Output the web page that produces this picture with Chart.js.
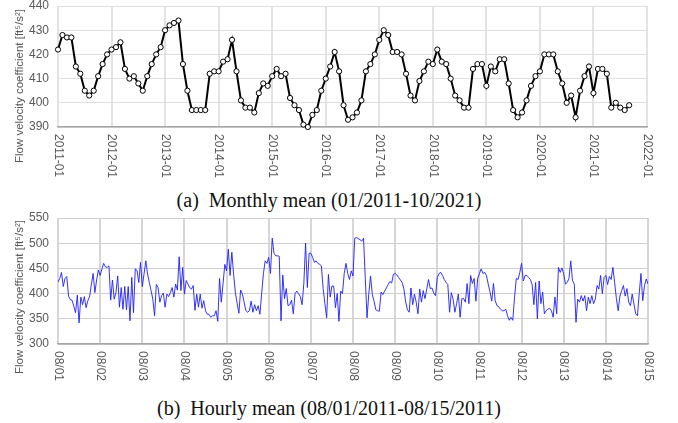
<!DOCTYPE html>
<html><head><meta charset="utf-8">
<script src="https://cdn.jsdelivr.net/npm/chart.js@4/dist/chart.umd.min.js"></script>
<style>
body{margin:0;background:#fff;}
#wrap{position:relative;width:678px;height:423px;overflow:hidden;background:#fff;}
canvas{position:absolute;left:0;}
.cap{position:absolute;left:0;width:658px;text-align:center;font-family:"Liberation Serif","Times New Roman",serif;font-size:20px;line-height:20px;color:#111;white-space:nowrap;}
</style></head><body>
<div id="wrap">
<canvas id="c1" width="678" height="180" style="top:0"></canvas>
<div class="cap" style="top:190px">(a)&nbsp; Monthly mean (01/2011-10/2021)</div>
<canvas id="c2" width="678" height="182" style="top:212px"></canvas>
<div class="cap" style="top:398px">(b)&nbsp; Hourly mean (08/01/2011-08/15/2011)</div>
</div>
<script>
// ---- Monthly mean data (ft^5/s^2) ----
const yearTicks = ['2011-01','2012-01','2013-01','2014-01','2015-01','2016-01','2017-01','2018-01','2019-01','2020-01','2021-01','2022-01'];
const m2011 = [422,428,427,427,415,412,405,403,405,411,416,420];
const m2012 = [422,423,425,414,410,411,408,405,411,416,420,423];
const m2013 = [430,432,433,434,416,405,397,397,397,397,412,413];
const m2014 = [413,417,418,426,413,401,398,398,396,404,408,407];
const m2015 = [411,414,411,412,402,399,397,391,390,395,397,405];
const m2016 = [410,415,421,413,399,393,394,396,401,413,416,420];
const m2017 = [426,430,428,421,421,420,412,403,401,409,413,417];
const m2018 = [416,422,417,416,410,403,401,398,398,414,416,416];
const m2019 = [407,415,413,418,418,408,397,394,396,401,407,411];
const m2020 = [413,420,420,420,413,408,400,403,394,405,411,415];
const m2021 = [404,414,414,412,398,400,398,397,399];
const monthlyTicksY = [390,400,410,420,430,440];

// ---- Hourly mean data, 08/01/2011 - 08/15/2011 ----
const dayTicks = ['08/01','08/02','08/03','08/04','08/05','08/06','08/07','08/08','08/09','08/10','08/11','08/12','08/13','08/14','08/15'];
const h0801 = [423,430,442,414,430,434,395,388,387,375,362,397,342,393,378,394,372,386,394,418,440,402,427,447];
const h0802 = [436,449,460,453,452,455,387,427,389,402,435,373,412,369,414,368,414,346,432,362,449,446,422,462];
const h0803 = [414,439,465,439,422,406,389,356,418,412,383,396,401,373,399,394,402,412,393,419,407,473,406,452];
const h0804 = [399,426,419,412,409,416,367,399,373,399,371,386,366,359,359,353,356,356,366,345,430,383,420,458];
const h0805 = [445,488,436,482,439,402,381,361,407,399,383,366,363,366,385,363,378,366,376,359,401,440,465,460];
const h0806 = [472,440,510,480,475,475,474,346,437,390,410,376,378,387,360,400,405,400,394,378,420,500,412,480];
const h0807 = [480,472,462,465,460,458,455,410,380,352,438,393,415,415,372,400,345,405,400,440,460,440,428,445];
const h0808 = [435,510,511,509,507,504,510,430,352,400,435,398,385,368,366,365,403,398,405,411,418,424,421,438];
const h0809 = [440,437,432,427,422,409,383,368,363,411,378,399,383,360,409,383,406,390,409,428,410,411,401,396];
const h0810 = [432,440,442,436,428,422,418,363,402,389,363,380,399,353,390,390,383,420,380,436,420,430,385,430];
const h0811 = [440,449,440,442,436,419,404,385,420,386,376,374,369,366,366,369,356,347,353,347,393,430,428,442];
const h0812 = [460,425,436,436,432,428,418,378,422,350,425,380,403,360,366,369,371,366,353,393,360,452,442,451];
const h0813 = [439,419,422,430,465,426,419,343,389,383,396,385,396,366,393,380,396,380,389,416,409,436,400,432];
const h0814 = [436,418,434,428,452,422,390,366,395,406,416,395,410,383,376,399,379,360,356,400,440,386,416,429];
const h0815 = [419];
const hourlyTicksY = [300,350,400,450,500,550];

const yTitle = 'Flow velocity coefficient [ft\u2075/s\u00B2]';

const monthly = [].concat(m2011,m2012,m2013,m2014,m2015,m2016,m2017,m2018,m2019,m2020,m2021);
const hourly = [].concat(h0801,h0802,h0803,h0804,h0805,h0806,h0807,h0808,h0809,h0810,h0811,h0812,h0813,h0814,h0815);

const SANS = '"Liberation Sans", Arial, "DejaVu Sans", sans-serif';

const customText = {
  id: 'customText',
  afterDraw(chart, args, opts) {
    const {ctx, chartArea, scales} = chart;
    const x = scales.x;
    ctx.save();
    ctx.fillStyle = '#595959';
    ctx.font = '12px ' + SANS;
    ctx.textAlign = 'left';
    ctx.textBaseline = 'middle';
    opts.labels.forEach((lab, i) => {
      const px = x.getPixelForValue(i * opts.step);
      ctx.save();
      ctx.translate(px, chartArea.bottom + opts.gap);
      ctx.rotate(Math.PI / 2);
      ctx.fillText(lab, 0, 0);
      ctx.restore();
    });
    ctx.font = '11.5px ' + SANS;
    ctx.textAlign = 'center';
    ctx.translate(opts.titleX, opts.titleY);
    ctx.rotate(-Math.PI / 2);
    ctx.fillText(opts.title, 0, 0);
    ctx.restore();
  }
};

function yScale(min, max, step, gridColor) {
  return {
    min, max,
    ticks: {stepSize: step, color: '#595959', font: {family: SANS, size: 12}, padding: 9},
    grid: {color: gridColor, drawTicks: false, lineWidth: 1},
    border: {display: false},
    afterFit(s) { s.width = 58; s.paddingTop = 0; s.paddingBottom = 0; }
  };
}
function xScale(max, step, h, gridColor) {
  return {
    type: 'linear', min: 0, max,
    ticks: {stepSize: step, display: false},
    grid: {color: gridColor, drawTicks: false, lineWidth: 2},
    border: {display: true, color: '#a6a6a6', width: 1.5},
    afterFit(s) { s.height = h; s.paddingLeft = 0; s.paddingRight = 0; }
  };
}

new Chart(document.getElementById('c1'), {
  type: 'line',
  data: {datasets: [{
    data: monthly.map((v, i) => ({x: i, y: v})),
    borderColor: '#000', borderWidth: 2, tension: 0, clip: false,
    pointRadius: 2.6, pointBorderWidth: 1, pointBackgroundColor: '#fff', pointBorderColor: '#000'
  }]},
  options: {
    responsive: false, animation: false, events: [],
    layout: {padding: {top: 6, right: 31, left: 0, bottom: 0}},
    plugins: {legend: {display: false}, tooltip: {enabled: false},
      customText: {labels: yearTicks, step: 12, gap: 7, title: yTitle, titleX: 20, titleY: 86}},
    scales: {x: xScale(132, 12, 53, '#e3e3e3'), y: yScale(390, 440, 10, '#e0e0e0')}
  },
  plugins: [customText]
});

new Chart(document.getElementById('c2'), {
  type: 'line',
  data: {datasets: [{
    data: hourly.map((v, i) => ({x: i, y: v})),
    borderColor: 'rgba(30,30,255,0.9)', borderWidth: 1, tension: 0, pointRadius: 0
  }]},
  options: {
    responsive: false, animation: false, events: [],
    layout: {padding: {top: 6, right: 30, left: 0, bottom: 0}},
    plugins: {legend: {display: false}, tooltip: {enabled: false},
      customText: {labels: dayTicks, step: 24, gap: 7, title: yTitle, titleX: 20, titleY: 85}},
    scales: {x: xScale(336, 24, 50, '#d6d6d6'), y: yScale(300, 550, 50, '#d0d0d0')}
  },
  plugins: [customText]
});
</script>
</body></html>
